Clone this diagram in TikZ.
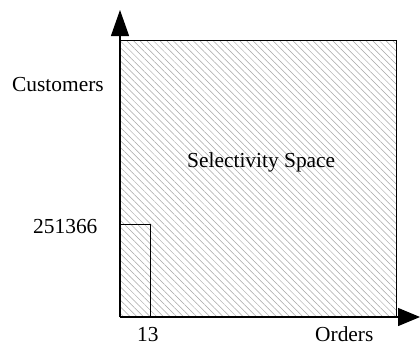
\documentclass[tikz,border=0pt]{standalone}
\usepackage{fontspec}
\setmainfont{Liberation Serif}
\usetikzlibrary{arrows.meta,patterns.meta}
\begin{document}
\begin{tikzpicture}[x=1pt,y=-1pt,
  lbl/.style={inner sep=0pt,anchor=base west,font=\fontsize{21.4}{25}\selectfont},
  hatch/.style={pattern={Lines[angle=-45,distance=4.7pt,line width=0.5pt]},pattern color=black!35},
  border/.style={draw=black,line width=1pt},
  axis/.style={draw=black,line width=1.2pt,-{Triangle[length=26pt,width=18pt]}}]
\useasboundingbox (0,0) rectangle (420,346);
\fill[white] (0,0) rectangle (420,346);
% selectivity space
\path[hatch] (120,40) rectangle (396,317);
\draw[border] (120,40) rectangle (396,317);
\draw[border] (120,224) rectangle (150,317);
% axes
\coordinate (o) at (120,317);
\coordinate (ytip) at (120,10);
\coordinate (xtip) at (420,317);
\draw[axis] (o) -- (ytip);
\draw[axis,-{Triangle[length=22pt,width=18pt]}] (o) -- (xtip);
% labels
\node[lbl] (cust) at (12,91) {Customers};
\node[lbl] (cval) at (33,233) {251366};
\node[lbl] (oval) at (137,341) {13};
\node[lbl] (ord) at (315,341) {Orders};
\node[lbl] (sel) at (187,167) {Selectivity Space};
\end{tikzpicture}
\end{document}
